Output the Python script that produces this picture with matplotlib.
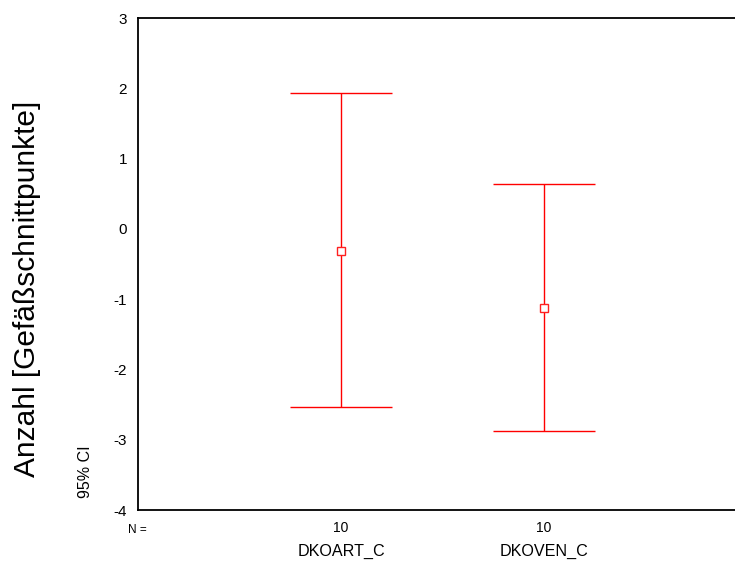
import matplotlib
matplotlib.use("Agg")
import matplotlib.pyplot as plt
import numpy as np

plt.rcParams['font.family'] = ['Liberation Sans', 'DejaVu Sans']

categories = ["DKOART_C", "DKOVEN_C"]
n_values = [10, 10]
means = [-0.31, -1.12]
ci_lower = [-2.54, -2.88]
ci_upper = [1.94, 0.64]
yticks = [3, 2, 1, 0, -1, -2, -3, -4]

fig = plt.figure(figsize=(7.35, 5.63), dpi=100)
ax = fig.add_axes([138/735, 53/563, 1 - 138/735, 492/563])

x = np.arange(1, len(categories) + 1)
means_a = np.array(means)
yerr = [means_a - np.array(ci_lower), np.array(ci_upper) - means_a]
ax.errorbar(x, means, yerr=yerr, fmt='s', color='#ff0000', mfc='white', mec='#ff2020',
            ms=6, mew=1, elinewidth=1, capsize=36.7, capthick=1.2, ecolor='#ff0000')

ax.set_xlim(0, (735 - 138) / 203)
ax.set_ylim(-4, 3)
ax.set_yticks(yticks)
ax.set_yticklabels([str(t) for t in yticks], fontsize=11)
ax.tick_params(axis='y', length=0, pad=8)
ax.set_xticks([])
ax.spines['right'].set_visible(False)
for s in ['left', 'top', 'bottom']:
    ax.spines[s].set_linewidth(1.3)

# N = row
fig.text(128/735, 1 - 530/563, "N =", fontsize=8.5, va='center', ha='left')
for xi, n in zip(x, n_values):
    xd = ax.transData.transform((xi, 0))[0]
    fig.text(xd / 735, 1 - 528/563, str(n), fontsize=10, va='center', ha='center')
for xi, c in zip(x, categories):
    xd = ax.transData.transform((xi, 0))[0]
    fig.text(xd / 735, 1 - 551/563, c, fontsize=11.6, va='center', ha='center')

fig.text(27/735, 1 - 289/563, "Anzahl [Gefäßschnittpunkte]", fontsize=21.5, rotation=90,
         va='center', ha='center')
fig.text(86/735, 1 - 472/563, "95% CI", fontsize=11.5, rotation=90, va='center', ha='center')

fig.savefig("out.png", dpi=100)
